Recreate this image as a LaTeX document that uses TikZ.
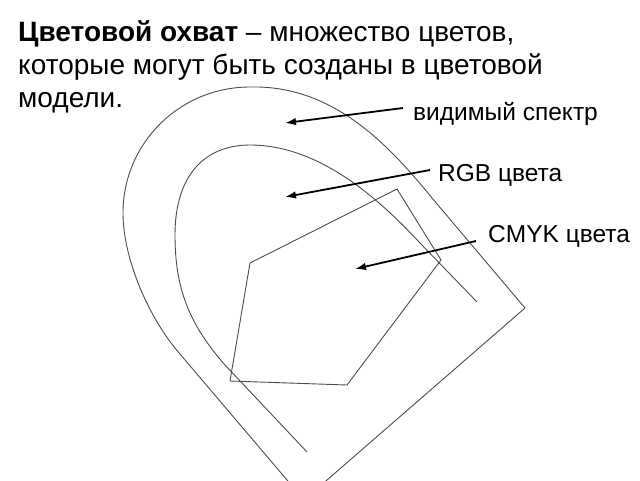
\documentclass[tikz,border=0pt]{standalone}
\usepackage{fontspec}
\setmainfont{Liberation Sans}
\usetikzlibrary{arrows.meta}
\begin{document}
\begin{tikzpicture}[x=1pt,y=-1pt,
  shape line/.style={draw=black!70, line width=0.9pt, line join=miter},
  pointer/.style={draw=black, line width=1.8pt, -{Latex[length=11pt,width=7.5pt]}},
  title/.style={anchor=base west, inner sep=0pt, font=\fontsize{28}{33}\selectfont},
  label/.style={anchor=base west, inner sep=0pt, font=\fontsize{24.5}{29}\selectfont}]
\useasboundingbox (0,0) rectangle (640,480);
\begin{scope}
\clip (0,0) rectangle (640,480);
% visible spectrum (outer shape)
\draw[shape line] (304,500) -- (180,354)
  .. controls (150,320) and (123,260) .. (123,213)
  .. controls (123,143) and (180,87) .. (250,87)
  .. controls (330,85) and (385,140) .. (432,198)
  -- (525,308) -- cycle;
% RGB gamut (open horseshoe)
\draw[shape line] (307,452) -- (225,365)
  .. controls (190,325) and (175,290) .. (175,235)
  .. controls (175,175) and (205,145) .. (250,145)
  .. controls (320,145) and (380,200) .. (420,243)
  -- (477,302);
% CMYK gamut
\draw[shape line] (397,189) -- (441,260) -- (347,385) -- (230,381) -- (250,263) -- cycle;
\end{scope}
% title
\node[title] (t1) at (18,41) {\textbf{Цветовой охват} – множество цветов,};
\node[title] (t2) at (18,74) {которые могут быть созданы в цветовой};
\node[title] (t3) at (18,107) {модели.};
% labels
\node[label] (vis) at (413,120) {видимый спектр};
\node[label] (rgb) at (438,181) {RGB цвета};
\node[label] (cmyk) at (488,242) {CMYK цвета};
\coordinate (visS) at (403,108);
\coordinate (visT) at (285,123);
\coordinate (rgbS) at (430,170);
\coordinate (rgbT) at (285,197);
\coordinate (cmykS) at (476,241);
\coordinate (cmykT) at (355,269);
\draw[pointer] (visS) -- (visT);
\draw[pointer] (rgbS) -- (rgbT);
\draw[pointer] (cmykS) -- (cmykT);
\end{tikzpicture}
\end{document}
